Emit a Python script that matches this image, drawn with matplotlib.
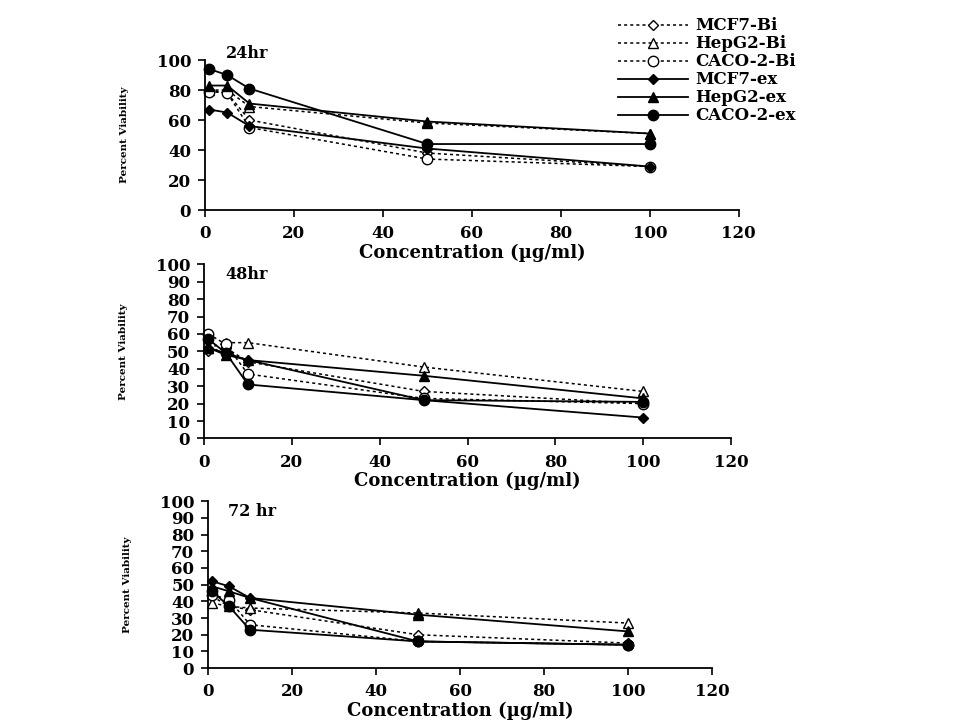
import matplotlib
matplotlib.use("Agg")
import matplotlib.pyplot as plt

plt.rcParams['font.family'] = ['DejaVu Serif']
plt.rcParams['font.weight'] = 'bold'

conc = [1, 5, 10, 50, 100]
series_names = ["MCF7-Bi", "HepG2-Bi", "CACO-2-Bi", "MCF7-ex", "HepG2-ex", "CACO-2-ex"]

# percent viability, one list per series and time point
v24 = {
    "MCF7-Bi":   [80, 78, 60, 38, 29],
    "HepG2-Bi":  [80, 80, 69, 58, 51],
    "CACO-2-Bi": [79, 78, 55, 34, 29],
    "MCF7-ex":   [67, 65, 56, 41, 29],
    "HepG2-ex":  [83, 83, 71, 59, 51],
    "CACO-2-ex": [94, 90, 81, 44, 44],
}
v48 = {
    "MCF7-Bi":   [50, 52, 44, 27, 20],
    "HepG2-Bi":  [52, 55, 55, 41, 27],
    "CACO-2-Bi": [60, 54, 37, 23, 20],
    "MCF7-ex":   [52, 49, 45, 22, 12],
    "HepG2-ex":  [52, 48, 45, 36, 23],
    "CACO-2-ex": [57, 49, 31, 22, 21],
}
v72 = {
    "MCF7-Bi":   [43, 37, 35, 20, 15],
    "HepG2-Bi":  [39, 37, 36, 33, 27],
    "CACO-2-Bi": [44, 41, 26, 16, 14],
    "MCF7-ex":   [52, 49, 42, 16, 14],
    "HepG2-ex":  [49, 46, 42, 32, 22],
    "CACO-2-ex": [46, 37, 23, 16, 14],
}
panel_titles = ["24hr", "48hr", "72 hr"]
x_ticks = [0, 20, 40, 60, 80, 100, 120]

styles = {
    "MCF7-Bi":   dict(marker='D', mfc='white', ls=(0, (2, 2)), lw=1.1, ms=5.5),
    "HepG2-Bi":  dict(marker='^', mfc='white', ls=(0, (2, 2)), lw=1.1, ms=7.5),
    "CACO-2-Bi": dict(marker='o', mfc='white', ls=(0, (2, 2)), lw=1.1, ms=7.5),
    "MCF7-ex":   dict(marker='D', mfc='black', ls='-', lw=1.3, ms=5.5),
    "HepG2-ex":  dict(marker='^', mfc='black', ls='-', lw=1.3, ms=7.5),
    "CACO-2-ex": dict(marker='o', mfc='black', ls='-', lw=1.3, ms=7.5),
}

fig = plt.figure(figsize=(9.6, 7.2), dpi=100)

# axes rectangles (left, bottom, width, height) in figure fractions
boxes = [
    [0.2135, 0.7083, 0.556, 0.2083],
    [0.2125, 0.3910, 0.549, 0.2420],
    [0.2167, 0.0720, 0.525, 0.2320],
]
data_sets = [v24, v48, v72]
y_steps = [20, 10, 10]
# title offsets above the top of each axes, in axes fractions
title_y = [1.10, 0.99, 0.99]

handles = []
for i, (box, data, title, step) in enumerate(zip(boxes, data_sets, panel_titles, y_steps)):
    ax = fig.add_axes(box)
    for name in series_names:
        st = styles[name]
        h, = ax.plot(conc, data[name], color='black', mec='black', mew=1.0,
                     marker=st['marker'], mfc=st['mfc'], ls=st['ls'],
                     lw=st['lw'], ms=st['ms'], label=name, clip_on=False)
        if i == 0:
            handles.append(h)
    ax.set_xlim(0, 120)
    ax.set_ylim(0, 100)
    ax.set_xticks(x_ticks)
    ax.set_yticks(range(0, 101, step))
    ax.spines['top'].set_visible(False)
    ax.spines['right'].set_visible(False)
    ax.spines['left'].set_linewidth(1.3)
    ax.spines['bottom'].set_linewidth(1.3)
    ax.tick_params(direction='out', length=5, width=1.2, labelsize=12, pad=5)
    ax.tick_params(axis='x', pad=6)
    for lab in ax.get_xticklabels() + ax.get_yticklabels():
        lab.set_fontweight('bold')
    ax.set_xlabel("Concentration (\u00b5g/ml)", fontsize=13, fontweight='bold', labelpad=1)
    ax.set_ylabel("Percent Viability", fontsize=7.5, fontweight='bold', labelpad=20)
    ax.text(0.04, title_y[i], title, transform=ax.transAxes, fontsize=11.5,
            fontweight='bold', va='top', ha='left')

fig.legend(handles=handles, loc='upper left', bbox_to_anchor=(0.632, 0.992),
           frameon=False, handlelength=4.2, labelspacing=0.06,
           borderpad=0.2, handletextpad=0.4, prop={'weight': 'bold', 'size': 12})

fig.savefig("out.png", dpi=100)
